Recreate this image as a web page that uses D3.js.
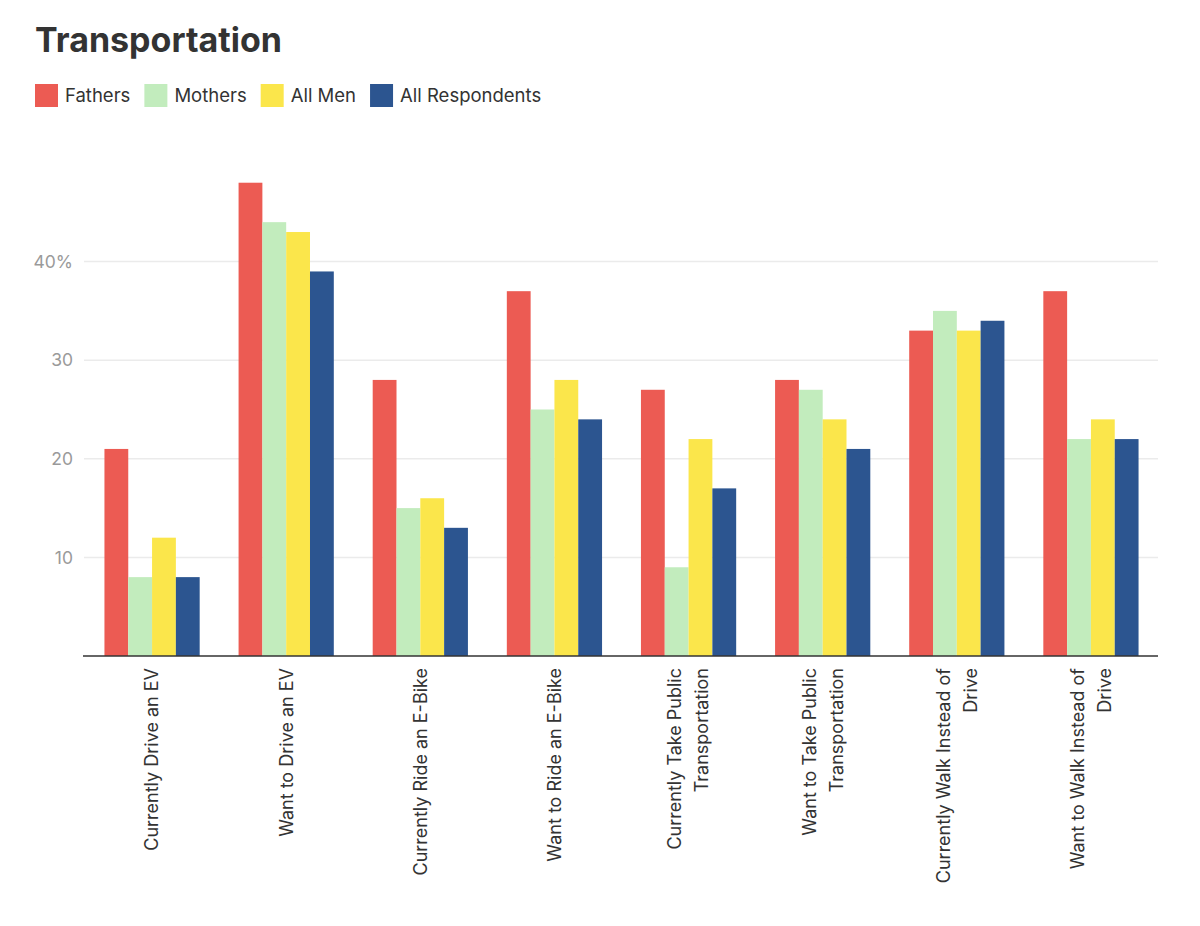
<!DOCTYPE html>
<meta charset="utf-8">
<style>
body { margin: 0; background: #fff; font-family: Inter, "Open Sans", sans-serif; }
.grid line { stroke: #ebebeb; stroke-width: 1.5px; }
.ytick text { fill: #9a9a9a; font-size: 17.5px; }
.xlabel { fill: #333; font-size: 18px; }
.legend text { fill: #333; font-size: 18.5px; }
</style>
<body>
<div id="chart"></div>
<script src="https://cdn.jsdelivr.net/npm/d3@7"></script>
<script>
// categories and their wrapped label lines
const categories = [
  "Currently Drive an EV", "Want to Drive an EV", "Currently Ride an E-Bike",
  "Want to Ride an E-Bike", "Currently Take Public Transportation",
  "Want to Take Public Transportation", "Currently Walk Instead of Drive",
  "Want to Walk Instead of Drive"
];
const labelLines = [
  ["Currently Drive an EV"], ["Want to Drive an EV"], ["Currently Ride an E-Bike"],
  ["Want to Ride an E-Bike"], ["Currently Take Public", "Transportation"],
  ["Want to Take Public", "Transportation"], ["Currently Walk Instead of", "Drive"],
  ["Want to Walk Instead of", "Drive"]
];

const seriesNames = ["Fathers", "Mothers", "All Men", "All Respondents"];
const colors = ["#ec5b53", "#c2ecbd", "#fbe64b", "#2c5590"];

// values in percent, one array per series
const fathers = [21, 48, 28, 37, 27, 28, 33, 37];
const mothers = [8, 44, 15, 25, 9, 27, 35, 22];
const allMen = [12, 43, 16, 28, 22, 24, 33, 24];
const allRespondents = [8, 39, 13, 24, 17, 21, 34, 22];
const series = [fathers, mothers, allMen, allRespondents];

const yTicks = [10, 20, 30, 40];

const W = 1200, H = 926;
const plot = {left: 85, right: 1158, top: 163, bottom: 656};

const svg = d3.select("#chart").append("svg")
    .attr("width", W)
    .attr("height", H);

// title
svg.append("text")
    .attr("x", 35)
    .attr("y", 52)
    .style("font", "bold 34px Inter, sans-serif")
    .style("fill", "#333")
    .text("Transportation");

// legend
const legend = svg.append("g").attr("class", "legend");
let lx = 35;
seriesNames.forEach(function(name, i) {
  legend.append("rect")
      .attr("x", lx).attr("y", 84)
      .attr("width", 23).attr("height", 23)
      .attr("fill", colors[i]);
  const t = legend.append("text")
      .attr("x", lx + 30).attr("y", 102)
      .text(name);
  lx += 30 + t.node().getComputedTextLength() + 14;
});

// scales
const x0 = d3.scaleBand()
    .domain(categories)
    .range([plot.left, plot.right])
    .paddingInner(0.29)
    .paddingOuter(0.145);

const x1 = d3.scaleBand()
    .domain(d3.range(series.length))
    .range([0, x0.bandwidth()]);

const y = d3.scaleLinear()
    .domain([0, 50])
    .range([plot.bottom, plot.top]);

// gridlines + y tick labels
const grid = svg.append("g").attr("class", "grid");
grid.selectAll("line")
  .data(yTicks)
  .join("line")
    .attr("x1", plot.left - 1)
    .attr("x2", plot.right)
    .attr("y1", d => y(d))
    .attr("y2", d => y(d));

svg.append("g").attr("class", "ytick")
  .selectAll("text")
  .data(yTicks)
  .join("text")
    .attr("x", 73)
    .attr("y", d => y(d))
    .attr("dy", "0.35em")
    .attr("text-anchor", "end")
    .text(d => d === 40 ? d + "%" : d);

// bars
const groups = svg.append("g")
  .selectAll("g")
  .data(categories)
  .join("g")
    .attr("transform", d => "translate(" + x0(d) + ",0)");

groups.selectAll("rect")
  .data((d, ci) => series.map((s, si) => ({si: si, v: s[ci]})))
  .join("rect")
    .attr("x", d => x1(d.si))
    .attr("width", x1.bandwidth())
    .attr("y", d => y(d.v))
    .attr("height", d => y(0) - y(d.v))
    .attr("fill", d => colors[d.si]);

// baseline
svg.append("line")
    .attr("x1", plot.left - 2)
    .attr("x2", plot.right)
    .attr("y1", y(0))
    .attr("y2", y(0))
    .attr("stroke", "#333")
    .attr("stroke-width", 1.5);

// rotated x labels
const lineGap = 27;
categories.forEach(function(c, i) {
  const lines = labelLines[i];
  const cx = x0(c) + x0.bandwidth() / 2;
  const n = lines.length;
  lines.forEach(function(line, j) {
    const lxp = cx + (j - (n - 1) / 2) * lineGap;
    svg.append("text")
        .attr("class", "xlabel")
        .attr("transform", "translate(" + lxp + "," + (y(0) + 12) + ") rotate(-90)")
        .attr("text-anchor", "end")
        .attr("dy", "0.35em")
        .text(line);
  });
});
</script>
</body>
